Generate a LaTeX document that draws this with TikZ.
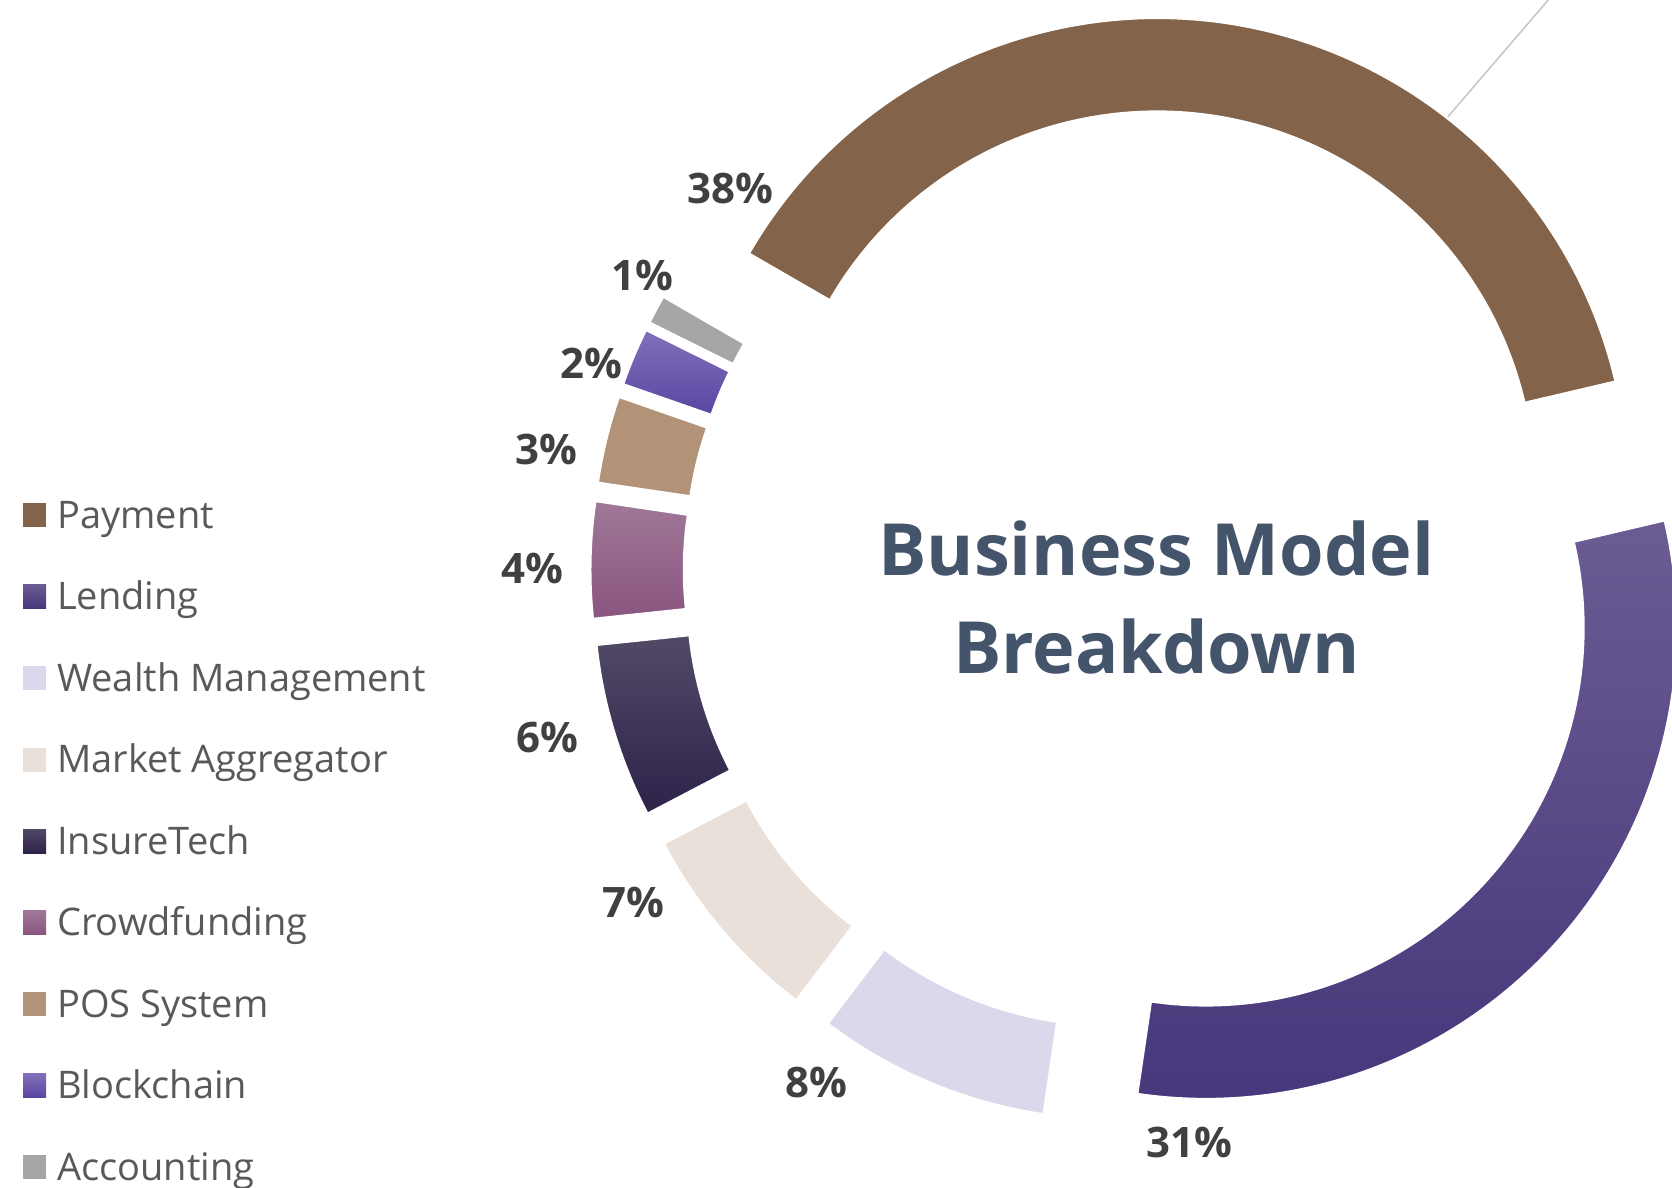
\documentclass[tikz,border=0pt]{standalone}
\usepackage{fontspec}
\setmainfont{Open Sans}
\usetikzlibrary{calc}
\definecolor{payc}{HTML}{83634A}
\definecolor{lendt}{HTML}{6B5C93}
\definecolor{lendb}{HTML}{46367B}
\definecolor{wealc}{HTML}{DCD7EB}
\definecolor{markc}{HTML}{EAE0DA}
\definecolor{inst}{HTML}{524967}
\definecolor{insb}{HTML}{2E2249}
\definecolor{crot}{HTML}{A07898}
\definecolor{crob}{HTML}{8A5580}
\definecolor{posc}{HTML}{B39378}
\definecolor{blkt}{HTML}{8270BA}
\definecolor{blkb}{HTML}{5A46A2}
\definecolor{accc}{HTML}{A6A6A6}
\definecolor{pctc}{HTML}{404040}
\definecolor{titc}{HTML}{44546A}
\definecolor{legc}{HTML}{595959}
\definecolor{leadc}{HTML}{C8C8C8}
\newcommand{\donutslice}[3]{%
  \pgfmathsetmacro{\mA}{(#1+#2)/2-90}%
  \pgfmathsetmacro{\sA}{#1-90}%
  \pgfmathsetmacro{\eA}{#2-90}%
  \path[#3] ($(C)+(\mA:\dexp)+(\sA:\Rout)$) arc[start angle=\sA, end angle=\eA, radius=\Rout]
    -- ($(C)+(\mA:\dexp)+(\eA:\Rin)$) arc[start angle=\eA, end angle=\sA, radius=\Rin] -- cycle;
}
\tikzset{
  slicebox/.style={draw=white, line width=2.5},
  pct/.style={font=\bfseries\fontsize{42}{50}\selectfont, text=pctc, anchor=base, inner sep=0pt},
  ttl/.style={font=\bfseries\fontsize{72}{80}\selectfont, text=titc, anchor=base, inner sep=0pt},
  legtext/.style={font=\fontsize{38}{44}\selectfont, text=legc, anchor=base west, inner sep=0pt},
  legsq/.style={minimum width=23pt, minimum height=24pt, inner sep=0pt, draw=none},
}
\begin{document}
\begin{tikzpicture}[x=1pt,y=-1pt]
\useasboundingbox (0,0) rectangle (1672,1187);
\clip (0,0) rectangle (1672,1187);
\fill[white] (0,0) rectangle (1672,1187);
\coordinate (C) at (1144.7,571.5);
\def\Rout{471.3}
\def\Rin{377.5}
\def\dexp{83.2}
% leader line
\coordinate (lp) at ($(C)+(8.4-90:\dexp)+(38-90:\Rout)$);
\coordinate (le) at (1558.5,-12);
\draw[leadc, line width=1.6] (lp) -- (le);
% slices
\donutslice{-60}{76.8}{slicebox, fill=payc}
\donutslice{76.8}{188.4}{slicebox, top color=lendt, bottom color=lendb}
\donutslice{188.4}{217.2}{slicebox, fill=wealc}
\donutslice{217.2}{242.4}{slicebox, fill=markc}
\donutslice{242.4}{264}{slicebox, top color=inst, bottom color=insb}
\donutslice{264}{278.4}{slicebox, top color=crot, bottom color=crob}
\donutslice{278.4}{289.2}{slicebox, fill=posc}
\donutslice{289.2}{296.4}{slicebox, top color=blkt, bottom color=blkb}
\donutslice{296.4}{300}{slicebox, fill=accc}
% title
\node[ttl] (t1) at (1156.5,575) {Business Model};
\node[ttl] (t2) at (1156.5,673) {Breakdown};
% percentages
\node[pct] (p38) at (730,203) {38\%};
\node[pct] (p31) at (1189,1157) {31\%};
\node[pct] (p8) at (816,1097) {8\%};
\node[pct] (p7) at (633,917) {7\%};
\node[pct] (p6) at (547,752) {6\%};
\node[pct] (p4) at (532,583) {4\%};
\node[pct] (p3) at (546.5,464) {3\%};
\node[pct] (p2) at (591.5,378) {2\%};
\node[pct] (p1) at (642,290) {1\%};
% legend
\node[legsq, fill=payc] (s1) at (34.5,515) {};
\node[legsq, top color=lendt, bottom color=lendb] (s2) at (34.5,596.5) {};
\node[legsq, fill=wealc] (s3) at (34.5,678) {};
\node[legsq, fill=markc] (s4) at (34.5,759.5) {};
\node[legsq, top color=inst, bottom color=insb] (s5) at (34.5,841) {};
\node[legsq, top color=crot, bottom color=crob] (s6) at (34.5,922.5) {};
\node[legsq, fill=posc] (s7) at (34.5,1004) {};
\node[legsq, top color=blkt, bottom color=blkb] (s8) at (34.5,1085.5) {};
\node[legsq, fill=accc] (s9) at (34.5,1167) {};
\node[legtext] (l1) at (57,528) {Payment};
\node[legtext] (l2) at (57,609.5) {Lending};
\node[legtext] (l3) at (57,691) {Wealth Management};
\node[legtext] (l4) at (57,772.5) {Market Aggregator};
\node[legtext] (l5) at (57,854) {InsureTech};
\node[legtext] (l6) at (57,935.5) {Crowdfunding};
\node[legtext] (l7) at (57,1017) {POS System};
\node[legtext] (l8) at (57,1098.5) {Blockchain};
\node[legtext] (l9) at (57,1180) {Accounting};
\end{tikzpicture}
\end{document}
